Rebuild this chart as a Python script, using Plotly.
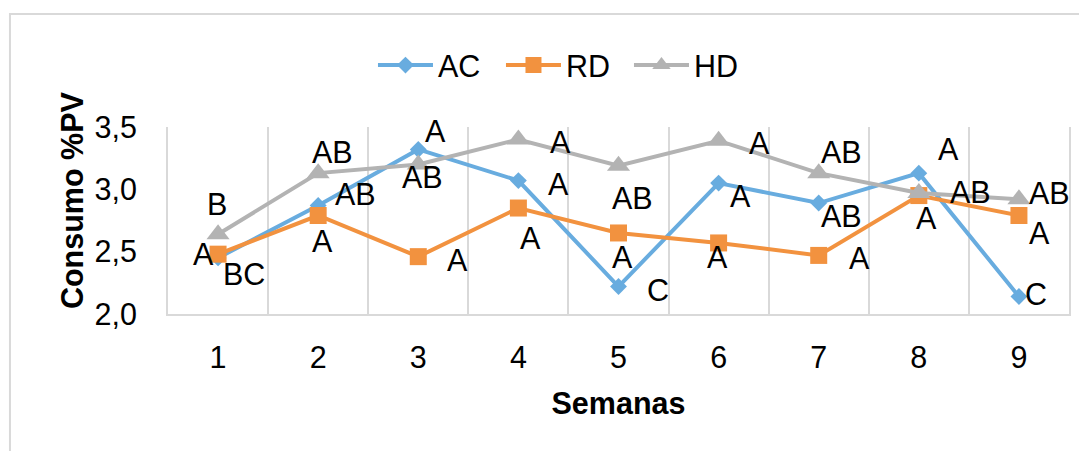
import plotly.graph_objects as go

semanas = [1, 2, 3, 4, 5, 6, 7, 8, 9]
tick_labels = ["1", "2", "3", "4", "5", "6", "7", "8", "9"]

ac_values = [2.45, 2.87, 3.32, 3.07, 2.22, 3.05, 2.89, 3.13, 2.14]
rd_values = [2.48, 2.79, 2.46, 2.85, 2.65, 2.57, 2.47, 2.95, 2.79]
hd_values = [2.64, 3.13, 3.20, 3.40, 3.19, 3.39, 3.13, 2.97, 2.92]

ac_letters = ["BC", "AB", "A", "A", "C", "A", "AB", "A", "C"]
rd_letters = ["A", "A", "A", "A", "A", "A", "A", "A", "A"]
hd_letters = ["B", "AB", "AB", "A", "AB", "A", "AB", "AB", "AB"]

# label offsets in screen pixels (dx right, dy down)
ac_off = [(26, 16), (37, -12), (17, -18), (40, 3), (39, 3), (22, 13), (23, 13), (30, -24), (17, -3)]
rd_off = [(-15, 0), (4, 25), (39, 3), (12, 30), (4, 24), (-1, 14), (41, 3), (8, 22), (21, 17)]
hd_off = [(-1, -30), (14, -21), (4, 13), (42, 3), (14, 32), (41, 2), (23, -21), (52, -1), (31, -6)]

FONT = "Arial, 'Liberation Sans', sans-serif"
FS = 30.5
C_AC = "#68ACDF"
C_RD = "#F2923F"
C_HD = "#B3B3B3"

fig = go.Figure()
fig.add_trace(go.Scatter(x=semanas, y=ac_values, name="AC", mode="lines+markers",
                         line=dict(color=C_AC, width=4),
                         marker=dict(symbol="diamond", size=13, color=C_AC)))
fig.add_trace(go.Scatter(x=semanas, y=rd_values, name="RD", mode="lines+markers",
                         line=dict(color=C_RD, width=4),
                         marker=dict(symbol="square", size=17, color=C_RD)))
fig.add_trace(go.Scatter(x=semanas, y=hd_values, name="HD", mode="lines+markers",
                         line=dict(color=C_HD, width=4),
                         marker=dict(symbol="triangle-up", size=20, color=C_HD)))

annotations = []
for vals, letters, offs in [(ac_values, ac_letters, ac_off),
                            (rd_values, rd_letters, rd_off),
                            (hd_values, hd_letters, hd_off)]:
    for xv, yv, t, (dx, dy) in zip(semanas, vals, letters, offs):
        annotations.append(dict(x=xv, y=yv, text=t, showarrow=False,
                                xanchor="center", yanchor="middle",
                                xshift=dx, yshift=-dy,
                                font=dict(family=FONT, size=FS, color="#000000")))

# y axis title (placed like the original, slightly above the plot centre)
annotations.append(dict(text="<b>Consumo %PV</b>", xref="paper", yref="paper",
                        x=-0.1065, y=0.6096, xanchor="center", yanchor="middle",
                        textangle=-90, showarrow=False,
                        font=dict(family=FONT, size=FS, color="#000000")))

fig.update_layout(
    width=1087, height=451,
    margin=dict(l=160, r=26, t=119, b=145, autoexpand=False),
    paper_bgcolor="white", plot_bgcolor="white",
    separators=",.",
    font=dict(family=FONT, size=FS, color="#000000"),
    annotations=annotations,
    showlegend=True,
    legend=dict(orientation="h", x=0.2275, xanchor="left", y=1.33, yanchor="middle",
                font=dict(family=FONT, size=FS, color="#000000"),
                bgcolor="rgba(0,0,0,0)", entrywidth=58, itemwidth=55),
    xaxis=dict(
        range=[0.5, 9.5], tickvals=semanas, ticktext=tick_labels,
        showgrid=False, zeroline=False,
        showline=True, linecolor="#D9D9D9", linewidth=2,
        ticks="outside", ticklen=15, tickcolor="rgba(0,0,0,0)",
        tickfont=dict(family=FONT, size=FS),
        minor=dict(tickvals=[1.5, 2.5, 3.5, 4.5, 5.5, 6.5, 7.5, 8.5],
                   showgrid=True, gridcolor="#D9D9D9", gridwidth=2, ticks=""),
        title=dict(text="<b>Semanas</b>", font=dict(family=FONT, size=FS), standoff=20),
    ),
    yaxis=dict(
        range=[2.0, 3.5], tickvals=[2.0, 2.5, 3.0, 3.5], tickformat=".1f",
        showgrid=False, zeroline=False,
        showline=True, mirror=True, linecolor="#D9D9D9", linewidth=2,
        ticks="outside", ticklen=23, tickcolor="rgba(0,0,0,0)",
        tickfont=dict(family=FONT, size=FS),
    ),
    shapes=[dict(type="rect", xref="paper", yref="paper",
                 x0=-0.1754, x1=1.2, y0=-1.5, y1=1.604,
                 line=dict(color="#D9D9D9", width=2), fillcolor="rgba(0,0,0,0)",
                 layer="below")],
)

fig.write_html("out.html")
